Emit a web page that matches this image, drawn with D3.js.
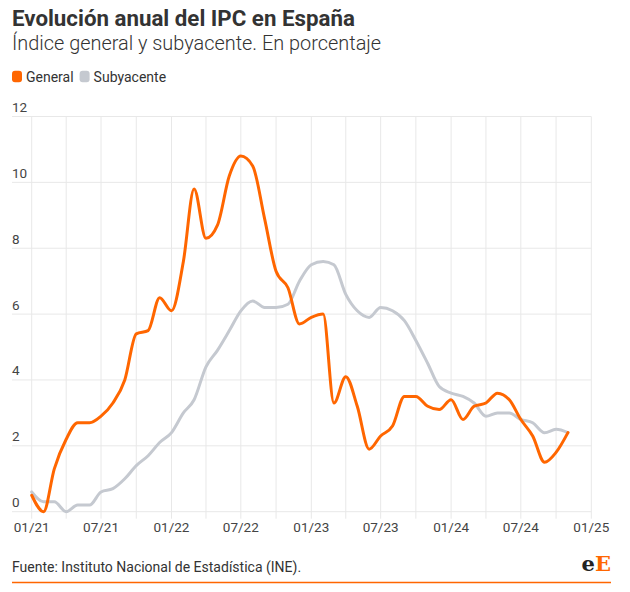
<!DOCTYPE html>
<html><head><meta charset="utf-8">
<script src="https://cdn.jsdelivr.net/npm/d3@7"></script>
<style>
html,body{margin:0;padding:0;background:#fff;}
svg{display:block;font-family:Roboto,"Noto Sans",sans-serif;}
</style></head>
<body>
<svg id="chart" width="630" height="592"></svg>
<script>
const months = d3.range(47).map(i => new Date(2021, i, 1)); // Jan 2021 .. Nov 2024
const general = [
  0.5, 0.0, 1.3, 2.2, 2.7, 2.7, 2.9, 3.3, 4.0, 5.4, 5.5, 6.5,
  6.1, 7.6, 9.8, 8.3, 8.7, 10.2, 10.8, 10.5, 8.9, 7.3, 6.8, 5.7,
  5.9, 6.0, 3.3, 4.1, 3.2, 1.9, 2.3, 2.6, 3.5, 3.5, 3.2, 3.1,
  3.4, 2.8, 3.2, 3.3, 3.6, 3.4, 2.8, 2.3, 1.5, 1.8, 2.4
];
const subyacente = [
  0.6, 0.3, 0.3, 0.0, 0.2, 0.2, 0.6, 0.7, 1.0, 1.4, 1.7, 2.1,
  2.4, 3.0, 3.4, 4.4, 4.9, 5.5, 6.1, 6.4, 6.2, 6.2, 6.3, 7.0,
  7.5, 7.6, 7.5, 6.6, 6.1, 5.9, 6.2, 6.1, 5.8, 5.2, 4.5, 3.8,
  3.6, 3.5, 3.3, 2.9, 3.0, 3.0, 2.8, 2.7, 2.4, 2.5, 2.4
];
const yTicks = [0, 2, 4, 6, 8, 10, 12];
const xLabelDates = d3.range(9).map(i => new Date(2021, i * 6, 1));
const xGridDates = d3.range(17).map(i => new Date(2021, i * 3, 1));
const seriesNames = ["General", "Subyacente"];
const seriesColors = ["#ff6600", "#c5c9d0"];

const svg = d3.select("#chart");
const x = d3.scaleTime().domain([new Date(2021,0,1), new Date(2025,0,1)]).range([31.7, 591.3]);
const y = d3.scaleLinear().domain([0, 12]).range([511.7, 116.5]);

// titles
svg.append("text").attr("x", 12).attr("y", 26).attr("font-size", 22.3).attr("font-weight", 700)
  .attr("fill", "#333").text("Evolución anual del IPC en España");
svg.append("text").attr("x", 12).attr("y", 50).attr("font-size", 19.9).attr("font-weight", 300)
  .attr("fill", "#333").text("Índice general y subyacente. En porcentaje");

// legend
const legend = svg.append("g");
let lx = 12;
seriesNames.forEach((n, i) => {
  legend.append("rect").attr("x", lx).attr("y", 70.8).attr("width", 10).attr("height", 11.5)
    .attr("rx", 3).attr("fill", seriesColors[i]);
  const t = legend.append("text").attr("x", lx + 14).attr("y", 82).attr("font-size", 14)
    .attr("fill", "#333").text(n);
  lx += 14 + t.node().getComputedTextLength() + 6;
});

// grid
const grid = svg.append("g");
grid.selectAll("line.h").data(yTicks).join("line")
  .attr("x1", 12).attr("x2", 591.3)
  .attr("y1", d => y(d)).attr("y2", d => y(d))
  .attr("stroke", "#e8e8e8").attr("stroke-width", 1);
grid.selectAll("line.v").data(xGridDates).join("line")
  .attr("x1", d => x(d)).attr("x2", d => x(d))
  .attr("y1", y(12)).attr("y2", y(0) + 7)
  .attr("stroke", "#e8e8e8").attr("stroke-width", 1);

// y labels
svg.append("g").selectAll("text").data(yTicks).join("text")
  .attr("x", 12).attr("y", d => y(d) - 4.5).attr("font-size", 13.5).attr("fill", "#444")
  .text(d => d);

// x labels
const fmt = d3.timeFormat("%m/%y");
svg.append("g").selectAll("text").data(xLabelDates).join("text")
  .attr("x", d => x(d)).attr("y", 532).attr("text-anchor", "middle")
  .attr("font-size", 13.5).attr("fill", "#444").text(d => fmt(d));

// lines
const line = d3.line().curve(d3.curveMonotoneX).x((d, i) => x(months[i])).y(d => y(d));
[subyacente, general].forEach((s, k) => {
  svg.append("path").datum(s).attr("d", line).attr("fill", "none")
    .attr("stroke", k === 0 ? seriesColors[1] : seriesColors[0])
    .attr("stroke-width", 3).attr("stroke-linejoin", "round").attr("stroke-linecap", "round");
});

// footer
svg.append("text").attr("x", 12).attr("y", 572).attr("font-size", 14).attr("fill", "#333")
  .text("Fuente: Instituto Nacional de Estadística (INE).");
const logo = svg.append("text").attr("x", 611).attr("y", 571).attr("text-anchor", "end")
  .attr("font-family", "'DejaVu Serif','Liberation Serif',serif").attr("font-size", 21).attr("font-weight", 700);
logo.append("tspan").attr("fill", "#222").text("e");
logo.append("tspan").attr("fill", "#ff6600").text("E");
svg.append("line").attr("x1", 12).attr("x2", 611).attr("y1", 582.5).attr("y2", 582.5)
  .attr("stroke", "#ff6600").attr("stroke-width", 1.3);
</script>
</body></html>
